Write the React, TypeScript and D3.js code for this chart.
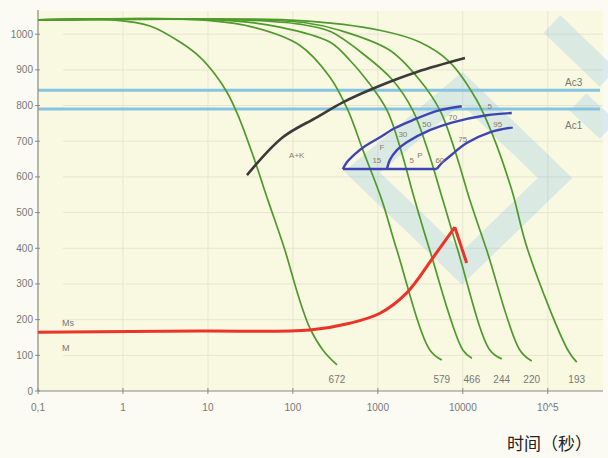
import React from 'react'
import * as d3 from 'd3'

// cooling curves: [time s, temperature °C]
const curve672 = [[0.1, 1040], [0.76, 1040], [2.08, 1023], [4.69, 978], [8.05, 936], [12.1, 888], [16.7, 838], [22.5, 774], [33.8, 661], [50.8, 535], [80.5, 395], [115, 269], [158, 177], [225, 115], [330, 73]]
const curve579 = [[0.1, 1040], [8, 1040], [31, 1022], [120, 969], [272, 880], [444, 787], [667, 675], [1115, 535], [1675, 395], [4090, 115], [5660, 87]]
const curve466 = [[0.1, 1040], [13.8, 1040], [70, 1020], [272, 978], [468, 927], [742, 871], [1280, 787], [1870, 675], [2720, 535], [4080, 395], [10000, 115], [12800, 92]]
const curve244 = [[0.1, 1040], [24, 1040], [120, 1028], [272, 1008], [703, 941], [1500, 871], [2570, 787], [3870, 675], [5820, 535], [8720, 395], [20800, 115], [28700, 90]]
const curve220 = [[0.1, 1040], [41, 1040], [140, 1032], [355, 1011], [1380, 955], [3120, 871], [5370, 787], [8050, 675], [12100, 535], [19100, 395], [46800, 115], [64700, 84]]
const curve193 = [[0.1, 1040], [120, 1038], [1050, 1011], [3100, 978], [7000, 922], [14600, 815], [22500, 717], [37700, 563], [58200, 395], [172000, 115], [219000, 81]]
const coolingCurves = [curve672, curve579, curve466, curve244, curve220, curve193]
const curveLabels = ['672', '579', '466', '244', '220', '193']

const blackLine = [[28.8, 605], [76, 711], [191, 767], [387, 809], [973, 852], [2880, 894], [10600, 933]]

const purpleUpper = [[387, 622], [432, 641], [537, 664], [703, 686], [1060, 711], [1590, 737], [2570, 759], [5370, 787], [9730, 798]]
const purpleBottom = [[387, 622], [4940, 622]]
const purpleLower = [[4940, 622], [5660, 639], [7030, 658], [11100, 695], [20800, 725], [38700, 739]]
const purpleMiddle = [[1280, 622], [1380, 647], [1675, 675], [2190, 697], [4090, 731], [7620, 753], [19100, 773], [37700, 779]]

const msCurve = [[0.1, 165], [8, 168], [158, 171], [468, 190], [1060, 218], [2190, 275], [4440, 373], [8050, 459]]
const msDrop = [[8050, 459], [11100, 359]]

const ac3 = 843
const ac1 = 790

const regionLabels: [number, number, string][] = [
  [111, 653, 'A+K'], [1115, 675, 'F'], [973, 640, '15'], [1970, 712, '30'], [3770, 740, '50'],
  [7620, 760, '70'], [20800, 790, '5'], [25700, 740, '95'], [2510, 638, '5'], [3120, 652, 'P'],
  [5370, 638, '60'], [10000, 698, '75'],
]

const yTicks = [0, 100, 200, 300, 400, 500, 600, 700, 800, 900, 1000]
const xTicks = [0.1, 1, 10, 100, 1000, 10000, 100000]
const xTickLabels = ['0,1', '1', '10', '100', '1000', '10000', '10^5']

export default function App() {
  const W = 608
  const H = 458
  const x = d3.scaleLog().domain([0.1, Math.pow(10, 5.65)]).range([38, 603])
  const y = d3.scaleLinear().domain([0, 1065]).range([391, 11])
  const smooth = d3.line<number[]>().x(d => x(d[0])).y(d => y(d[1])).curve(d3.curveCatmullRom.alpha(0.5))
  const straight = d3.line<number[]>().x(d => x(d[0])).y(d => y(d[1]))
  const font = '"Liberation Sans", Arial, sans-serif'
  const [x0, x1] = x.range()

  return (
    <svg width={W} height={H} style={{ position: 'absolute', left: 0, top: 0 }} fontFamily={font}>
      <rect width={W} height={H} fill="#fbfbf4" />
      <rect x={x0} y={11} width={x1 - x0} height={380} fill="#f9f9e2" />
      {/* grid */}
      {yTicks.slice(1).map(t => (
        <line key={t} x1={x0 + 25} x2={x1} y1={y(t)} y2={y(t)} stroke="#e6e6d0" strokeWidth={1} />
      ))}
      {xTicks.slice(1).map(t => (
        <line key={t} x1={x(t)} x2={x(t)} y1={11} y2={391} stroke="#e6e6d3" strokeWidth={1} />
      ))}
      {/* watermark */}
      <g opacity={0.22} fill="none" stroke="#6fb2e6" strokeWidth={24}>
        <polygon points="462,88 555,178 462,268 362,172" />
        <path d="M552,24 L608,78 M578,102 L608,130" />
      </g>
      {/* Ac lines */}
      {[ac3, ac1].map(v => (
        <line key={v} x1={x0} x2={600} y1={y(v)} y2={y(v)} stroke="#86c4e2" strokeWidth={3} />
      ))}
      <text x={565} y={86} fontSize={10} fill="#777">Ac3</text>
      <text x={565} y={129} fontSize={10} fill="#777">Ac1</text>
      {/* axes */}
      <line x1={x0} x2={x0} y1={10} y2={391} stroke="#8a8a80" strokeWidth={1.2} />
      <line x1={x0} x2={x1} y1={391} y2={391} stroke="#8a8a80" strokeWidth={1.2} />
      {yTicks.map(t => (
        <g key={t}>
          <line x1={x0 - 3} x2={x0 + 2} y1={y(t)} y2={y(t)} stroke="#8a8a80" />
          <text x={x0 - 5} y={y(t) + 3.5} fontSize={10} fill="#777" textAnchor="end">{t}</text>
        </g>
      ))}
      {xTicks.map((t, i) => (
        <g key={t}>
          <line x1={x(t)} x2={x(t)} y1={388} y2={394} stroke="#8a8a80" />
          <text x={x(t)} y={411} fontSize={10} fill="#777" textAnchor="middle">{xTickLabels[i]}</text>
        </g>
      ))}
      {/* cooling curves */}
      {coolingCurves.map((c, i) => (
        <g key={i}>
          <path d={smooth(c) || ''} fill="none" stroke="#4f9a2c" strokeWidth={1.7} />
          <text x={x(c[c.length - 1][0])} y={383} fontSize={10} fill="#777" textAnchor="middle">{curveLabels[i]}</text>
        </g>
      ))}
      {/* transformation lines */}
      <path d={smooth(blackLine) || ''} fill="none" stroke="#3a3a3a" strokeWidth={2.6} />
      {[purpleUpper, purpleLower, purpleMiddle].map((c, i) => (
        <path key={i} d={smooth(c) || ''} fill="none" stroke="#3d45b2" strokeWidth={2.4} />
      ))}
      <path d={straight(purpleBottom) || ''} fill="none" stroke="#3d45b2" strokeWidth={2.4} />
      <path d={smooth(msCurve) || ''} fill="none" stroke="#ec3328" strokeWidth={3} />
      <path d={straight(msDrop) || ''} fill="none" stroke="#ec3328" strokeWidth={3} />
      {regionLabels.map(([t, v, s], i) => (
        <text key={i} x={x(t)} y={y(v)} fontSize={8} fill="#8a7a6a" textAnchor="middle">{s}</text>
      ))}
      <text x={62} y={326} fontSize={9} fill="#777">Ms</text>
      <text x={62} y={351} fontSize={9} fill="#777">M</text>
      <text x={507} y={450} fontSize={17} fill="#222" fontFamily='"Noto Sans CJK SC", sans-serif'>时间（秒）</text>
    </svg>
  )
}
